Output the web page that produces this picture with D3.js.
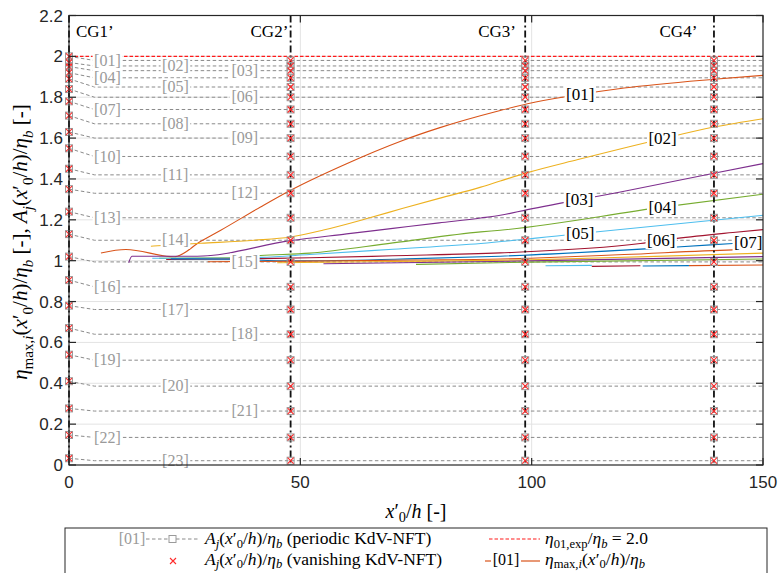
<!DOCTYPE html>
<html><head><meta charset="utf-8">
<script src="https://cdn.jsdelivr.net/npm/d3@7"></script>
<style>body{margin:0;background:#fff}svg{display:block}</style>
</head><body>
<svg id="chart" width="780" height="573"></svg>
<script>
// ---------------- data ----------------
const xTicks = [0, 50, 100, 150];
const yTicks = [0, 0.2, 0.4, 0.6, 0.8, 1, 1.2, 1.4, 1.6, 1.8, 2, 2.2];
const yTickLabels = ["0", "0.2", "0.4", "0.6", "0.8", "1", "1.2", "1.4", "1.6", "1.8", "2", "2.2"];
const cgNames = ["CG1’", "CG2’", "CG3’", "CG4’"];
const cgX = [0, 47.9, 98.6, 139.4];
const etaExp = 2.0;

const waveIds = ["01","02","03","04","05","06","07","08","09","10","11","12",
                 "13","14","15","16","17","18","19","20","21","22","23"];
// A_j/eta_b at the wavemaker (x'0/h = 0)
const ampOrigin = [2.00,1.97,1.95,1.92,1.89,1.84,1.78,1.71,1.63,1.55,1.45,1.35,
                   1.24,1.13,1.02,0.905,0.78,0.67,0.54,0.41,0.277,0.147,0.033];
// A_j/eta_b further down the flume (CG2'..CG4')
const ampLevel = [1.98,1.953,1.93,1.895,1.85,1.80,1.74,1.67,1.60,1.51,1.42,1.33,
                  1.21,1.10,0.994,0.872,0.761,0.64,0.513,0.386,0.264,0.135,0.021];

// eta_max,i(x'0/h)/eta_b curves
const etaMaxIds = ["01","02","03","04","05","06","07","08","09","10","11","12","13","14","15"];
const etaMaxX = [
  [6.9,12.3,22.7,28.5,32.8,41.4,47.9,60,71.7,80,93.2,99.1,110,120,139.4,150],
  [17.7,28.5,40,47.9,55,65,72,80,89,93.2,99.1,110,128.3,139.4,150],
  [12.9,13.6,27.7,47.9,60,70,80,89,93.2,99.1,120,139.4,150],
  [19.5,35,41.4,52,70,89,93.2,128.3,150],
  [18,35,41.4,52,70,89,110.5,150],
  [21,35,41.4,52,70,93.2,123.5,131.4,143.5,150],
  [22,35,45,52,75,93.2,131.4,143.5,150],
  [30,52,75,93.2,99.7,120,143.5,150],
  [45,70,99.7,125,150],
  [55,80,99.7,150],
  [75,99.7,150],
  [103,113],
  [113,123.5],
  [124,134],
  [134,150]
];
const etaMaxY = [
  [1.038,1.055,1.019,1.095,1.149,1.263,1.345,1.475,1.585,1.65,1.735,1.768,1.812,1.845,1.888,1.907],
  [1.071,1.085,1.100,1.116,1.15,1.21,1.255,1.305,1.36,1.39,1.431,1.495,1.597,1.654,1.695],
  [0.99,1.022,1.022,1.098,1.131,1.158,1.185,1.209,1.222,1.25,1.34,1.428,1.475],
  [1.012,1.014,1.025,1.037,1.087,1.141,1.149,1.262,1.325],
  [1.012,1.012,1.016,1.03,1.056,1.084,1.133,1.222],
  [1.006,1.008,1.01,1.014,1.024,1.038,1.084,1.109,1.138,1.152],
  [1.009,1.007,1.0,1.0,1.01,1.022,1.067,1.084,1.093],
  [0.995,0.998,1.003,1.008,1.012,1.03,1.053,1.056],
  [0.99,0.996,1.004,1.02,1.037],
  [0.985,0.992,0.999,1.02],
  [0.982,0.993,1.008],
  [0.975,0.977],
  [0.972,0.975],
  [0.974,0.976],
  [0.976,0.979]
];
const etaLabelIds = ["01","02","03","04","05","06","07"];

// ---------------- style / layout ----------------
const colorOrder = ["#D95319","#EDB120","#7E2F8E","#77AC30","#4DBEEE","#A2142F","#0072BD"];
const serif = "'Liberation Serif','DejaVu Serif',serif";
const sans = "'Liberation Sans',Arial,sans-serif";
const L = 69, R = 763, T = 15.5, B = 465;
const grayLabelX = [8.3, 23, 38];          // staggered label columns (data x)
const etaLabelX = [110.5, 128.3, 110.3, 128.3, 110.5, 128, 146.8];
const slantEnd = 5.5;

const svg = d3.select("#chart");
const x = d3.scaleLinear().domain([0, 150]).range([L, R]);
const y = d3.scaleLinear().domain([0, 2.2]).range([B, T]);

// math text helper
function mathText(g, parts, size, attrs, subShift) {
  const sh = subShift == null ? 0.28 : subShift;
  const t = g.append("text").attr("font-family", serif).attr("font-size", size);
  Object.entries(attrs || {}).forEach(([k, v]) => t.attr(k, v));
  let shift = 0;
  parts.forEach(p => {
    const ts = t.append("tspan").text(p.t);
    if (p.i) ts.attr("font-style", "italic");
    const target = p.sub ? sh * size : 0;
    const dy = target - shift; shift = target;
    if (dy) ts.attr("dy", dy);
    if (p.sub) ts.attr("font-size", size * 0.72);
  });
  return t;
}
const xOverH = [{t:"("},{t:"x",i:1},{t:"′"},{t:"0",sub:1},{t:"/"},{t:"h",i:1},{t:")/"},{t:"η",i:1},{t:"b",i:1,sub:1}];
const Aj = [{t:"A",i:1},{t:"j",i:1,sub:1}].concat(xOverH);
const etaMaxTxt = [{t:"η",i:1},{t:"max,",sub:1},{t:"i",i:1,sub:1}].concat(xOverH);

// ---------------- grid ----------------
const grid = svg.append("g").attr("stroke", "#e3e3e3").attr("stroke-width", 1);
yTicks.slice(1, -1).forEach(v => grid.append("line").attr("x1", L).attr("x2", R).attr("y1", y(v)).attr("y2", y(v)));
xTicks.slice(1, -1).forEach(v => grid.append("line").attr("y1", T).attr("y2", B).attr("x1", x(v)).attr("x2", x(v)));

// ---------------- A_j dashed lines ----------------
const line = d3.line().x(d => x(d[0])).y(d => y(d[1]));
const smooth = d3.line().x(d => x(d[0])).y(d => y(d[1])).curve(d3.curveMonotoneX);
const dashG = svg.append("g");
waveIds.forEach((id, j) => {
  const pts = [[0, ampOrigin[j]], [slantEnd, ampLevel[j]], [150, ampLevel[j]]];
  dashG.append("path").attr("d", line(pts)).attr("fill", "none")
    .attr("stroke", "#8a8a8a").attr("stroke-width", 1).attr("stroke-dasharray", "3.5,2.5");
});

// ---------------- eta_max curves ----------------
const curveG = svg.append("g");
etaMaxX.forEach((xs, i) => {
  const pts = xs.map((v, k) => [v, etaMaxY[i][k]]);
  curveG.append("path").attr("d", smooth(pts)).attr("fill", "none")
    .attr("stroke", colorOrder[i % colorOrder.length]).attr("stroke-width", 1.1);
});

// red dashed eta_exp line
svg.append("line").attr("x1", x(0)).attr("x2", x(150)).attr("y1", y(etaExp)).attr("y2", y(etaExp))
  .attr("stroke", "#ff1a1a").attr("stroke-width", 1.2).attr("stroke-dasharray", "3.5,2");

// ---------------- labels ----------------
function boxedLabel(cx, cy, txt, color, size) {
  const g = svg.append("g");
  const t = g.append("text").attr("x", cx).attr("y", cy + size * 0.32).attr("text-anchor", "middle")
    .attr("font-family", serif).attr("font-size", size).attr("fill", color).text("[" + txt + "]");
  const bb = t.node().getBBox();
  g.insert("rect", "text").attr("x", bb.x - 1.5).attr("y", cy - 8.5).attr("width", bb.width + 3)
    .attr("height", 17).attr("fill", "#fff");
}
waveIds.forEach((id, j) => {
  const lx = grayLabelX[j % 3];
  boxedLabel(x(lx), y(ampLevel[j]), id, "#9a9a9a", 16);
});
function interp(xs, ys, v) {
  for (let k = 0; k < xs.length - 1; k++) {
    if (v >= xs[k] && v <= xs[k + 1]) return ys[k] + (ys[k + 1] - ys[k]) * (v - xs[k]) / (xs[k + 1] - xs[k]);
  }
  return ys[ys.length - 1];
}
etaLabelIds.forEach((id, i) => {
  const lx = etaLabelX[i];
  boxedLabel(x(lx), y(interp(etaMaxX[i], etaMaxY[i], lx)), id, "#000", 17);
});

// ---------------- CG vertical lines ----------------
cgX.forEach(v => {
  svg.append("line").attr("x1", x(v)).attr("x2", x(v)).attr("y1", T).attr("y2", B)
    .attr("stroke", "#111").attr("stroke-width", 1.8).attr("stroke-dasharray", "7,3,2,3");
});

// ---------------- markers ----------------
const mk = svg.append("g");
cgX.forEach((cx, c) => {
  const vals = c === 0 ? ampOrigin : ampLevel;
  vals.forEach(v => {
    const px = x(cx), py = y(v);
    mk.append("rect").attr("x", px - 3.5).attr("y", py - 3.5).attr("width", 7).attr("height", 7)
      .attr("fill", "none").attr("stroke", "#9a9a9a").attr("stroke-width", 1);
    mk.append("path").attr("d", `M${px-3},${py-3}L${px+3},${py+3}M${px-3},${py+3}L${px+3},${py-3}`)
      .attr("stroke", "#ff2a2a").attr("stroke-width", 1.1);
  });
});

// ---------------- axes ----------------
const ax = svg.append("g").attr("stroke", "#262626").attr("stroke-width", 1.2);
ax.append("rect").attr("x", L).attr("y", T).attr("width", R - L).attr("height", B - T).attr("fill", "none");
yTicks.forEach(v => {
  ax.append("line").attr("x1", L).attr("x2", L + 7).attr("y1", y(v)).attr("y2", y(v));
  ax.append("line").attr("x1", R).attr("x2", R - 7).attr("y1", y(v)).attr("y2", y(v));
});
xTicks.forEach(v => {
  ax.append("line").attr("x1", x(v)).attr("x2", x(v)).attr("y1", B).attr("y2", B - 7);
  ax.append("line").attr("x1", x(v)).attr("x2", x(v)).attr("y1", T).attr("y2", T + 7);
});
const tl = svg.append("g").attr("font-family", sans).attr("font-size", 17).attr("fill", "#262626");
yTicks.forEach((v, i) => tl.append("text").attr("x", L - 6).attr("y", y(v) + 6).attr("text-anchor", "end").text(yTickLabels[i]));
xTicks.forEach(v => tl.append("text").attr("x", x(v)).attr("y", B + 23).attr("text-anchor", "middle").text(v));

// CG labels
const cgText = [[1.5, "start"], [47.4, "end"], [96.6, "end"], [135.8, "end"]];
cgNames.forEach((n, i) => {
  svg.append("text").attr("x", x(cgText[i][0])).attr("y", 37).attr("text-anchor", cgText[i][1])
    .attr("font-family", serif).attr("font-size", 17).text(n);
});

// axis titles
mathText(svg, [{t:"x",i:1},{t:"′"},{t:"0",sub:1},{t:"/"},{t:"h",i:1},{t:" [-]"}], 20,
  {x: (L + R) / 2, y: 518, "text-anchor": "middle"}, 0.22);
mathText(svg, etaMaxTxt.concat([{t:" [-], "}], Aj, [{t:" [-]"}]), 21,
  {transform: "translate(27,242) rotate(-90)", "text-anchor": "middle"});

// ---------------- legend ----------------
const lg = svg.append("g");
lg.append("rect").attr("x", 65).attr("y", 528).attr("width", 702).attr("height", 60)
  .attr("fill", "#fff").attr("stroke", "#262626").attr("stroke-width", 1);
// row 1
lg.append("text").attr("x", 132).attr("y", 544).attr("text-anchor", "middle").attr("font-family", serif)
  .attr("font-size", 16).attr("fill", "#9a9a9a").text("[01]");
lg.append("line").attr("x1", 146).attr("x2", 200).attr("y1", 539).attr("y2", 539)
  .attr("stroke", "#8a8a8a").attr("stroke-dasharray", "3.5,2.5");
lg.append("rect").attr("x", 169).attr("y", 535.5).attr("width", 7).attr("height", 7)
  .attr("fill", "#fff").attr("stroke", "#9a9a9a");
mathText(lg, Aj.concat([{t:" (periodic KdV-NFT)"}]), 17.5, {x: 205, y: 544}, 0.2);
lg.append("line").attr("x1", 489).attr("x2", 540).attr("y1", 539).attr("y2", 539)
  .attr("stroke", "#ff1a1a").attr("stroke-width", 1.2).attr("stroke-dasharray", "3.5,2");
mathText(lg, [{t:"η",i:1},{t:"01,exp",sub:1},{t:"/"},{t:"η",i:1},{t:"b",i:1,sub:1},{t:" = 2.0"}], 17.5, {x: 545, y: 544}, 0.2);
// row 2
lg.append("path").attr("d", "M170,558L176,564M170,564L176,558").attr("stroke", "#ff2a2a").attr("stroke-width", 1.1);
mathText(lg, Aj.concat([{t:" (vanishing KdV-NFT)"}]), 17.5, {x: 205, y: 565}, 0.18);
lg.append("line").attr("x1", 485).attr("x2", 491).attr("y1", 561).attr("y2", 561).attr("stroke", "#D95319").attr("stroke-width", 1.2);
lg.append("text").attr("x", 506).attr("y", 565).attr("text-anchor", "middle").attr("font-family", serif)
  .attr("font-size", 16).text("[01]");
lg.append("line").attr("x1", 521).attr("x2", 540).attr("y1", 561).attr("y2", 561).attr("stroke", "#D95319").attr("stroke-width", 1.2);
mathText(lg, etaMaxTxt, 17.5, {x: 545, y: 565}, 0.18);
</script>
</body></html>
